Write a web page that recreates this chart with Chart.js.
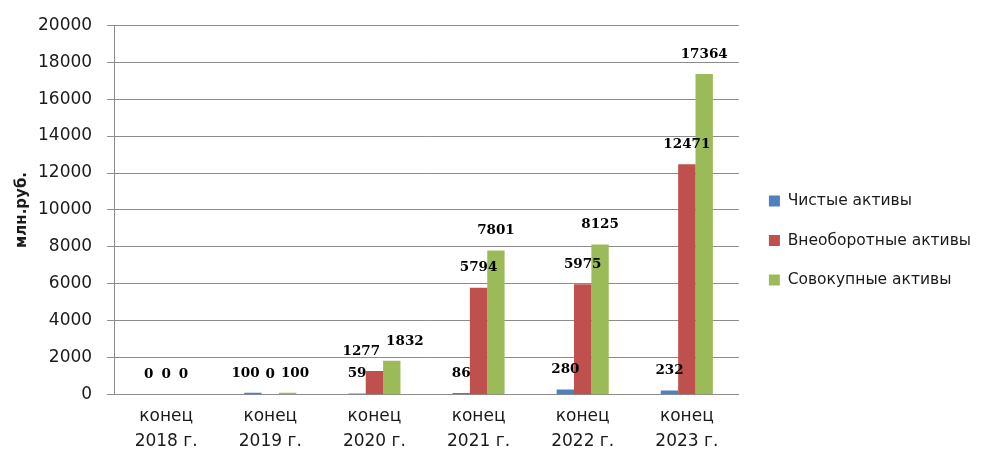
<!DOCTYPE html>
<html>
<head>
<meta charset="utf-8">
<script src="https://cdn.jsdelivr.net/npm/chart.js@4"></script>
<style>
  html, body { margin: 0; padding: 0; background: #fff; }
  #wrap { width: 998px; height: 455px; }
</style>
</head>
<body>
<div id="wrap"><canvas id="assets-chart"></canvas></div>
<script>
const years = [['конец', '2018 г.'], ['конец', '2019 г.'], ['конец', '2020 г.'], ['конец', '2021 г.'], ['конец', '2022 г.'], ['конец', '2023 г.']];
const netAssets = [0, 100, 59, 86, 280, 232];
const fixedAssets = [0, 0, 1277, 5794, 5975, 12471];
const totalAssets = [0, 100, 1832, 7801, 8125, 17364];
const yTicks = [0, 2000, 4000, 6000, 8000, 10000, 12000, 14000, 16000, 18000, 20000];

Chart.defaults.font.family = 'DejaVu Sans';
Chart.defaults.color = '#1a1a1a';

// value labels above each bar, like the Excel data labels;
// labels of one category that collide get pushed apart sideways
const barLabels = {
  id: 'barLabels',
  afterDatasetsDraw(chart) {
    const ctx = chart.ctx;
    ctx.save();
    ctx.font = 'bold 13.5px "DejaVu Serif"';
    ctx.fillStyle = '#000';
    ctx.textAlign = 'center';
    ctx.textBaseline = 'bottom';
    const n = chart.data.labels.length;
    for (let j = 0; j < n; j++) {
      const items = chart.data.datasets.map((ds, i) => {
        const bar = chart.getDatasetMeta(i).data[j];
        const txt = String(ds.data[j]);
        return { txt, x: bar.x, y: bar.y - 13, w: ctx.measureText(txt).width };
      });
      for (let pass = 0; pass < 4; pass++) {
        for (let k = 1; k < items.length; k++) {
          const a = items[k - 1], b = items[k];
          if (Math.abs(a.y - b.y) > 14) continue;
          const overlap = (a.x + a.w / 2 + 6) - (b.x - b.w / 2);
          if (overlap > 0) { a.x -= overlap / 2; b.x += overlap / 2; }
        }
      }
      items.forEach(it => ctx.fillText(it.txt, it.x, it.y));
    }
    ctx.restore();
  }
};

// nudge the legend a little right, closer to where Excel put it
const legendNudge = {
  id: 'legendNudge',
  afterLayout(chart) {
    const lg = chart.legend;
    if (!lg) return;
    lg.left += 6; lg.right += 6;
    lg.top -= 2; lg.bottom -= 2;
  }
};

new Chart(document.getElementById('assets-chart'), {
  type: 'bar',
  data: {
    labels: years,
    datasets: [
      { label: 'Чистые активы', data: netAssets, backgroundColor: '#4f81bd' },
      { label: 'Внеоборотные активы', data: fixedAssets, backgroundColor: '#c0504d' },
      { label: 'Совокупные активы', data: totalAssets, backgroundColor: '#9bbb59' }
    ]
  },
  options: {
    responsive: true,
    maintainAspectRatio: false,
    animation: false,
    layout: { padding: { top: 21, right: 23, left: 5, bottom: -9 } },
    datasets: { bar: { categoryPercentage: 0.5, barPercentage: 1 } },
    plugins: {
      legend: {
        position: 'right',
        labels: { boxWidth: 11, boxHeight: 11, padding: 24, font: { size: 15.5 }, color: '#1a1a1a' }
      },
      tooltip: { enabled: false }
    },
    scales: {
      x: {
        grid: { display: false, drawTicks: false },
        border: { display: true, color: '#8c8c8c' },
        ticks: { padding: 10, font: { size: 17, lineHeight: 1.45 }, maxRotation: 0 }
      },
      y: {
        min: 0,
        max: 20000,
        afterBuildTicks: axis => { axis.ticks = yTicks.map(v => ({ value: v })); },
        grid: { color: '#8c8c8c', tickLength: 7 },
        border: { color: '#8c8c8c' },
        ticks: { padding: 15, font: { size: 17 }, callback: v => String(v) },
        title: { display: true, text: 'млн.руб.', font: { size: 15, weight: 'bold' }, padding: { top: 8, bottom: -8 } }
      }
    }
  },
  plugins: [barLabels, legendNudge]
});
</script>
</body>
</html>
